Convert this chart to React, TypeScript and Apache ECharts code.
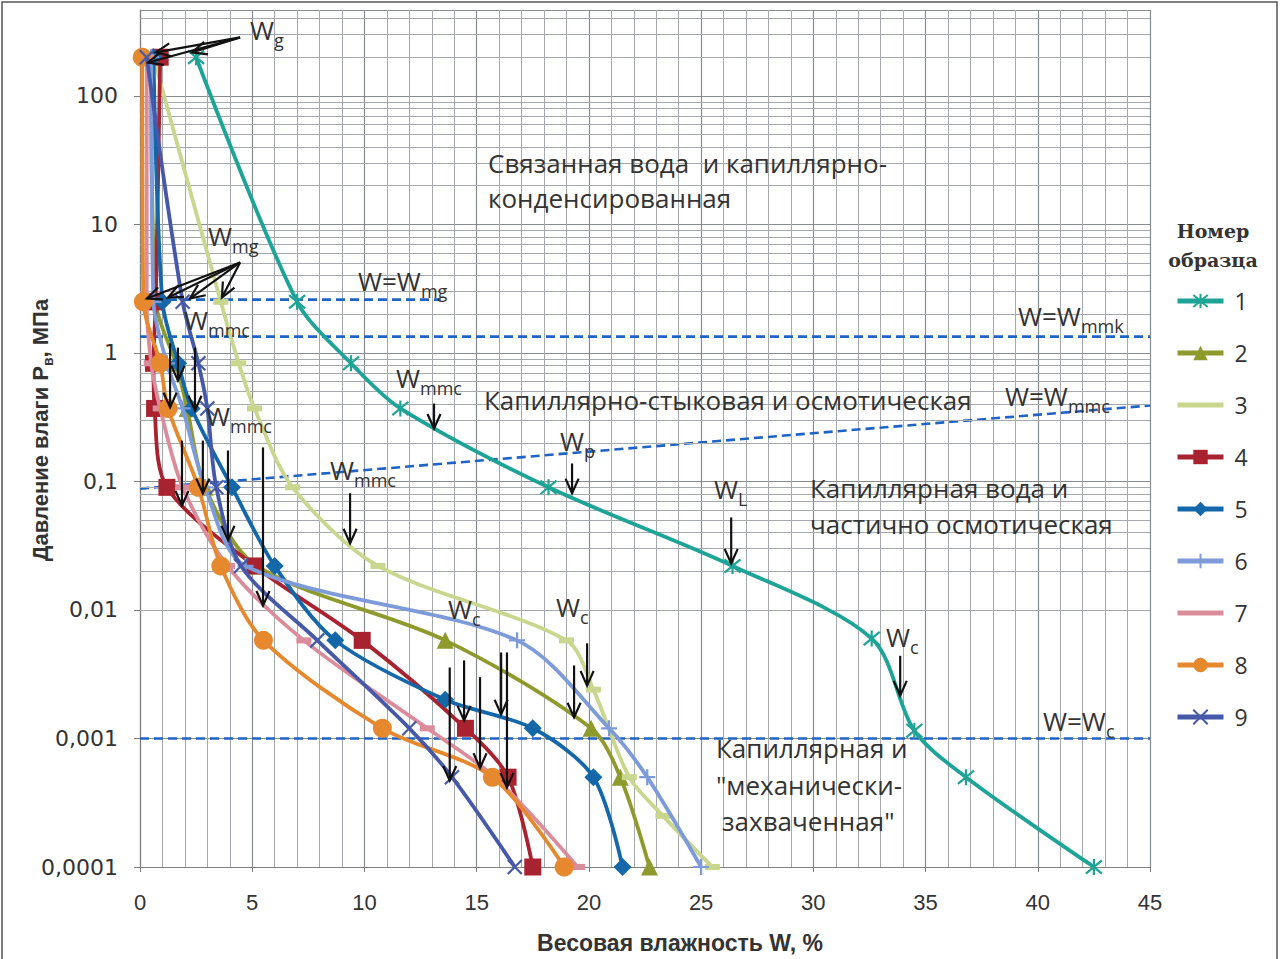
import React, { useEffect, useRef } from 'react';
import * as echarts from 'echarts';

// Moisture W (%) against moisture pressure P (MPa) for each sample
const s1P = [200, 2.5, 0.83, 0.37, 0.09, 0.022, 0.006, 0.00115, 0.0005, 0.0001];
const s1W = [2.5, 7.0, 9.4, 11.6, 18.2, 26.4, 32.6, 34.5, 36.8, 42.5];

const s2P = [200, 2.5, 0.83, 0.37, 0.09, 0.022, 0.0058, 0.0012, 0.0005, 0.0001];
const s2W = [0.5, 0.7, 1.6, 2.1, 2.9, 5.2, 13.6, 20.1, 21.4, 22.7];

const s3P = [200, 2.5, 0.83, 0.37, 0.09, 0.022, 0.0058, 0.0024, 0.0005, 0.00025, 0.0001];
const s3W = [0.6, 3.6, 4.4, 5.1, 6.8, 10.6, 19.0, 20.2, 21.8, 23.3, 25.5];

const s4P = [200, 2.5, 0.83, 0.37, 0.09, 0.022, 0.0058, 0.0012, 0.0005, 0.0001];
const s4W = [0.9, 0.7, 0.6, 0.65, 1.2, 5.1, 9.9, 14.5, 16.4, 17.5];

const s5P = [200, 2.5, 0.83, 0.37, 0.09, 0.022, 0.0058, 0.002, 0.0012, 0.0005, 0.0001];
const s5W = [0.6, 1.0, 1.7, 2.3, 4.1, 6.0, 8.7, 13.6, 17.5, 20.2, 21.5];

const s6P = [200, 2.5, 0.83, 0.37, 0.09, 0.022, 0.0058, 0.0012, 0.0005, 0.0001];
const s6W = [0.5, 0.6, 1.2, 1.9, 2.9, 4.7, 16.8, 20.9, 22.6, 25.0];

const s7P = [200, 2.5, 0.83, 0.37, 0.09, 0.022, 0.0058, 0.0012, 0.0005, 0.0001];
const s7W = [0.3, 0.3, 0.5, 0.9, 1.9, 3.9, 7.3, 12.8, 15.8, 19.5];

const s8P = [200, 2.5, 0.83, 0.37, 0.09, 0.022, 0.0058, 0.0012, 0.0005, 0.0001];
const s8W = [0.1, 0.15, 0.9, 1.25, 2.6, 3.6, 5.5, 10.8, 15.7, 18.9];

const s9P = [200, 2.5, 0.83, 0.37, 0.09, 0.022, 0.0058, 0.0012, 0.0005, 0.0001];
const s9W = [0.3, 1.9, 2.6, 3.0, 3.4, 4.5, 7.9, 12.0, 13.9, 16.7];

const sampleNames = ['1', '2', '3', '4', '5', '6', '7', '8', '9'];
const sampleColors = ['#1ea497', '#8e9a2c', '#c9d68e', '#a8232f', '#1467a8', '#7d9bd8', '#da8c9b', '#e6892e', '#4659a8'];

// Boundary moisture levels (dashed lines): [W, P] end points
const lineWmg = [[0, 2.6], [13.4, 2.6]];
const lineWmmk = [[0, 1.34], [45, 1.34]];
const lineWmmc = [[0, 0.088], [45, 0.39]];
const lineWc = [[0, 0.001], [45, 0.001]];

// Vertical pointer arrows: W, P at the tail, P at the tip
const arrowW = [1.34, 1.69, 2.45, 1.87, 2.8, 3.92, 5.48, 9.36, 13.1, 19.25, 26.34, 33.87, 19.92, 19.34, 13.8, 14.44, 15.15, 16.09, 16.35];
const arrowTailP = [1.19, 1.1, 1.1, 0.208, 0.208, 0.174, 0.184, 0.081, 0.404, 0.138, 0.0525, 0.0044, 0.0055, 0.0037, 0.00357, 0.00405, 0.003, 0.00467, 0.00467];
const arrowTipP = [0.377, 0.61, 0.357, 0.065, 0.081, 0.0348, 0.0108, 0.033, 0.258, 0.081, 0.023, 0.00216, 0.00258, 0.00146, 0.00047, 0.00138, 0.00059, 0.00154, 0.000416];

// Leader arrows from the W_g and W_mg labels
const wgTail = [4.46, 285];
const wgTipW = [0.36, 0.71, 2.32];
const wgTipP = [182, 218, 218];
const wmgTail = [4.46, 5.06];
const wmgTipW = [0.31, 1.25, 2.23, 3.65];
const wmgTipP = [2.65, 2.7, 2.65, 2.7];

const yTickText: Record<number, string> = {
  2: '100', 1: '10', 0: '1', [-1]: '0,1', [-2]: '0,01', [-3]: '0,001', [-4]: '0,0001',
};

const ASTERISK = 'path://M0,1L10,11M10,1L0,11M5,0L5,12';
const CROSS = 'path://M0,0L10,10M10,0L0,10';
const PLUS = 'path://M5,0L5,10M0,5L10,5';

const TEXT_FONT = '"Open Sans", "Noto Sans", sans-serif';
const TITLE_FONT = '"Liberation Sans", Arial, sans-serif';
const NARROW_FONT = '"Liberation Sans Narrow", "Liberation Sans", sans-serif';

type Marker = { symbol: string; size: number | number[]; stroke: boolean; plainLegend: boolean };
const markers: Marker[] = [
  { symbol: ASTERISK, size: 16, stroke: true, plainLegend: false },
  { symbol: 'triangle', size: 17, stroke: false, plainLegend: false },
  { symbol: 'rect', size: [15, 6], stroke: false, plainLegend: true },
  { symbol: 'rect', size: 17, stroke: false, plainLegend: false },
  { symbol: 'diamond', size: 18, stroke: false, plainLegend: false },
  { symbol: PLUS, size: 16, stroke: true, plainLegend: false },
  { symbol: 'rect', size: [15, 6], stroke: false, plainLegend: true },
  { symbol: 'circle', size: 19, stroke: false, plainLegend: false },
  { symbol: CROSS, size: 14, stroke: true, plainLegend: false },
];

const sampleW = [s1W, s2W, s3W, s4W, s5W, s6W, s7W, s8W, s9W];
const sampleP = [s1P, s2P, s3P, s4P, s5P, s6P, s7P, s8P, s9P];

function wLabel(x: number, y: number, main: string, sub: string) {
  return {
    type: 'text',
    x,
    y,
    silent: true,
    z: 100,
    style: {
      text: `{m|${main}}{s|${sub}}`,
      verticalAlign: 'middle',
      rich: {
        m: { fontSize: 26, lineHeight: 38, fontFamily: TEXT_FONT, fill: '#333' },
        s: { fontSize: 18, lineHeight: 18, verticalAlign: 'bottom', fontFamily: TEXT_FONT, fill: '#333' },
      },
    },
  };
}

function plainLabel(x: number, y: number, text: string) {
  return {
    type: 'text',
    x,
    y,
    silent: true,
    z: 100,
    style: { text, fontSize: 26, fontFamily: TEXT_FONT, fill: '#333', verticalAlign: 'middle' },
  };
}

export default function App() {
  const ref = useRef<HTMLDivElement>(null);

  useEffect(() => {
    if (!ref.current) return;
    const chart = echarts.init(ref.current, undefined, { renderer: 'svg' });

    const minorLevels: number[] = [];
    for (let e = -4; e <= 2; e++) {
      for (let m = 2; m <= 9; m++) {
        const v = m * Math.pow(10, e);
        if (v < 466) minorLevels.push(v);
      }
    }

    const sampleSeries = sampleNames.map((name, i) => {
      const mk = markers[i];
      const c = sampleColors[i];
      return {
        name,
        type: 'line',
        smooth: 0.3,
        data: sampleW[i].map((w, k) => [w, sampleP[i][k]]),
        symbol: mk.symbol,
        symbolSize: mk.size,
        showSymbol: true,
        lineStyle: { color: c, width: 3.8 },
        itemStyle: mk.stroke
          ? { color: c, borderColor: c, borderWidth: 2.2 }
          : { color: c, borderWidth: 0 },
        z: 5 + i,
      };
    });

    const refLine = (data: number[][], z = 4) => ({
      type: 'line',
      data,
      symbol: 'none',
      silent: true,
      lineStyle: { color: '#1f63c4', width: 2.6, type: [9, 5] },
      z,
    });

    const arrowData: number[][] = arrowW.map((w, i) => [w, arrowTailP[i], w, arrowTipP[i]]);
    wgTipW.forEach((w, i) => arrowData.push([wgTail[0], wgTail[1], w, wgTipP[i]]));
    wmgTipW.forEach((w, i) => arrowData.push([wmgTail[0], wmgTail[1], w, wmgTipP[i]]));

    const legendData = sampleNames.map((name, i) =>
      markers[i].plainLegend
        ? { name, itemStyle: { opacity: 0 }, lineStyle: { width: 5 } }
        : { name, lineStyle: { width: 5 } },
    );

    const option: any = {
      animation: false,
      backgroundColor: '#ffffff',
      grid: { left: 140, right: 132, top: 10, bottom: 92, containLabel: false },
      xAxis: {
        type: 'value',
        min: 0,
        max: 45,
        interval: 5,
        axisLine: { show: true, onZero: false, lineStyle: { color: '#808080', width: 1.2 } },
        axisTick: { show: true, length: 5, lineStyle: { color: '#808080' } },
        axisLabel: { fontSize: 22, fontFamily: NARROW_FONT, color: '#333', margin: 24 },
        splitLine: { show: true, lineStyle: { color: '#878c91', width: 1.2 } },
        minorTick: { show: false, splitNumber: 5 },
        minorSplitLine: { show: true, lineStyle: { color: '#a5a9ad', width: 1 } },
      },
      yAxis: {
        type: 'log',
        logBase: 10,
        min: 0.0001,
        max: 466,
        axisLine: { show: true, onZero: false, lineStyle: { color: '#808080', width: 1.2 } },
        axisTick: { show: true, length: 6, lineStyle: { color: '#808080' } },
        axisLabel: {
          fontSize: 22,
          fontFamily: '"DejaVu Sans", sans-serif',
          color: '#333',
          margin: 22,
          showMaxLabel: false,
          formatter: (v: number) => {
            const e = Math.round(Math.log10(v));
            if (Math.abs(Math.log10(v) - e) > 0.01) return '';
            return yTickText[e] ?? '';
          },
        },
        splitLine: { show: true, lineStyle: { color: '#878c91', width: 1.2 } },
      },
      legend: {
        data: legendData,
        orient: 'vertical',
        left: 1170,
        top: 284,
        itemWidth: 46,
        itemHeight: 18,
        itemGap: 28,
        lineStyle: { width: 5 },
        textStyle: { fontSize: 23, fontFamily: TEXT_FONT, color: '#333', lineHeight: 24, padding: [0, 0, 0, 6] },
        selectedMode: false,
      },
      series: [
        {
          type: 'line',
          data: [],
          silent: true,
          z: 1,
          markLine: {
            silent: true,
            symbol: 'none',
            label: { show: false },
            lineStyle: { color: '#a5a9ad', width: 1, type: 'solid' },
            data: minorLevels.map((v) => ({ yAxis: v })),
          },
        },
        refLine(lineWmg),
        refLine(lineWmmk),
        refLine(lineWmmc),
        refLine(lineWc),
        ...sampleSeries,
        {
          type: 'custom',
          coordinateSystem: 'cartesian2d',
          data: arrowData,
          encode: { x: [0, 2], y: [1, 3] },
          silent: true,
          z: 30,
          renderItem: (_params: any, api: any) => {
            const a = api.coord([api.value(0), api.value(1)]);
            const b = api.coord([api.value(2), api.value(3)]);
            const ang = Math.atan2(b[1] - a[1], b[0] - a[0]);
            const L = 16;
            const S = 0.42;
            const h1 = [b[0] - L * Math.cos(ang - S), b[1] - L * Math.sin(ang - S)];
            const h2 = [b[0] - L * Math.cos(ang + S), b[1] - L * Math.sin(ang + S)];
            return {
              type: 'group',
              children: [
                { type: 'line', shape: { x1: a[0], y1: a[1], x2: b[0], y2: b[1] }, style: { stroke: '#111', lineWidth: 2.2 } },
                { type: 'polyline', shape: { points: [h1, b, h2] }, style: { stroke: '#111', lineWidth: 2.2, fill: null } },
              ],
            };
          },
        },
      ],
      graphic: [
        { type: 'rect', shape: { x: 2, y: 2, width: 1275, height: 1000 }, style: { fill: null, stroke: '#555', lineWidth: 1.5 }, silent: true, z: 0 },
        wLabel(250, 30, 'W', 'g'),
        wLabel(208, 236, 'W', 'mg'),
        wLabel(358, 281, 'W=W', 'mg'),
        wLabel(184, 320, 'W', 'mmc'),
        wLabel(1018, 316, 'W=W', 'mmk'),
        wLabel(396, 378, 'W', 'mmc'),
        wLabel(1005, 396, 'W=W', 'mmc'),
        wLabel(206, 416, 'W', 'mmc'),
        wLabel(560, 441, 'W', 'p'),
        wLabel(330, 470, 'W', 'mmc'),
        wLabel(714, 489, 'W', 'L'),
        wLabel(448, 609, 'W', 'c'),
        wLabel(556, 607, 'W', 'c'),
        wLabel(886, 637, 'W', 'c'),
        wLabel(1043, 721, 'W=W', 'c'),
        plainLabel(488, 163, 'Связанная вода  и капиллярно-'),
        plainLabel(488, 198, 'конденсированная'),
        plainLabel(484, 400, 'Капиллярно-стыковая и осмотическая'),
        plainLabel(810, 488, 'Капиллярная вода и'),
        plainLabel(810, 524, 'частично осмотическая'),
        plainLabel(716, 748, 'Капиллярная и'),
        plainLabel(716, 785, '"механически-'),
        plainLabel(722, 821, 'захваченная"'),
        {
          type: 'text',
          x: 40,
          y: 430,
          rotation: Math.PI / 2,
          silent: true,
          style: {
            text: '{b|Давление влаги P}{s|в}{b|, МПа}',
            align: 'center',
            verticalAlign: 'middle',
            rich: {
              b: { fontSize: 22, fontWeight: 'bold', fontFamily: TITLE_FONT, fill: '#333', lineHeight: 30 },
              s: { fontSize: 14, fontWeight: 'bold', fontFamily: TITLE_FONT, fill: '#333', lineHeight: 14, verticalAlign: 'bottom' },
            },
          },
        },
        {
          type: 'text',
          x: 680,
          y: 943,
          silent: true,
          style: {
            text: 'Весовая влажность W, %',
            fontSize: 23,
            fontWeight: 'bold',
            fontFamily: TITLE_FONT,
            fill: '#333',
            align: 'center',
            verticalAlign: 'middle',
          },
        },
        {
          type: 'text',
          x: 1213,
          y: 245,
          silent: true,
          style: {
            text: 'Номер\nобразца',
            fontSize: 19,
            lineHeight: 29,
            fontWeight: 'bold',
            fontFamily: '"DejaVu Serif", "Liberation Serif", serif',
            fill: '#333',
            align: 'center',
            verticalAlign: 'middle',
          },
        },
      ],
    };

    chart.setOption(option);
    return () => chart.dispose();
  }, []);

  return (
    <div
      ref={ref}
      style={{ position: 'fixed', left: 0, top: 0, width: 1282, height: 959, background: '#fff' }}
    />
  );
}
